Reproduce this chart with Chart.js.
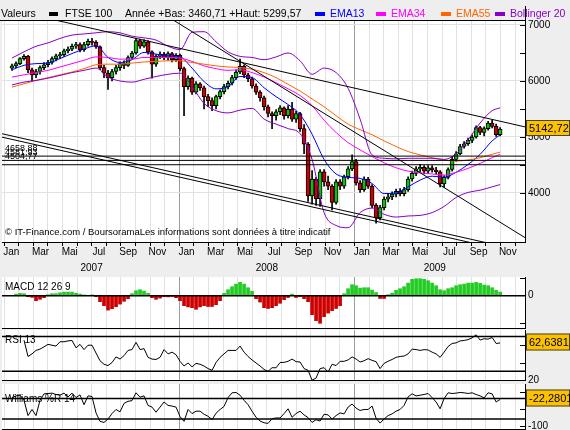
<!DOCTYPE html>
<html>
<head>
<meta charset="utf-8">
<script src="https://cdn.jsdelivr.net/npm/chart.js@4.4.1/dist/chart.umd.min.js"></script>
<style>
  html, body { margin: 0; padding: 0; background: #eeeeee; }
  #wrap { position: relative; width: 570px; height: 430px; overflow: hidden; background: #eeeeee; }
  #wrap canvas { position: absolute; left: 0; top: 0; }
</style>
</head>
<body>
<div id="wrap">
  <canvas id="main" width="570" height="430"></canvas>
  <canvas id="macd" width="570" height="430"></canvas>
  <canvas id="rsi" width="570" height="430"></canvas>
  <canvas id="will" width="570" height="430"></canvas>
</div>
<script>
// ---- données ----
const monthLabels = ['Jan', 'Mar', 'Mai', 'Jul', 'Sep', 'Nov'];
const yearLabels = ['2007', '2008', '2009'];
const priceTicks = [4000, 5000, 6000, 7000];
const yearLow = 3460.71, yearHigh = 5299.57;

// bougies (une barre tous les ~8 jours, janv. 2007 -> nov. 2009)
const opens = [
  6230, 6270, 6310, 6400, 6440, 6200, 6110, 6170, 6240, 6290,
  6330, 6400, 6450, 6470, 6540, 6570, 6620, 6650, 6560, 6650,
  6710, 6690, 6610, 6240, 6140, 6060, 6170, 6240, 6310, 6280,
  6420, 6500, 6720, 6620, 6700, 6520, 6300, 6440, 6480, 6420,
  6490, 6380, 6460, 6220, 5900, 6050, 5800, 5950, 5880, 5720,
  5650, 5560, 5720, 5810, 5900, 5960, 6060, 6160, 6260, 6110,
  6040, 5910, 5800, 5700, 5540, 5420, 5380, 5450, 5520, 5380,
  5500, 5320, 5420, 5150, 4870, 3950, 4250, 3900, 4380, 4200,
  4120, 3830, 4200, 4120, 4290, 4430, 4560, 4180, 4060, 4250,
  4120, 3780, 3560, 3740, 3890, 3930, 3980, 4030, 3990, 4060,
  4250, 4350, 4430, 4460, 4390, 4450, 4410, 4380, 4160, 4280,
  4420, 4600, 4700, 4830, 4880, 4940, 5000, 5170, 5080, 5150,
  5250, 5190, 5040
];
const highs = [
  6300, 6340, 6420, 6470, 6460, 6230, 6210, 6270, 6330, 6370,
  6430, 6480, 6510, 6570, 6610, 6660, 6690, 6680, 6690, 6750,
  6760, 6720, 6630, 6280, 6190, 6210, 6280, 6340, 6360, 6450,
  6530, 6760, 6750, 6740, 6720, 6540, 6470, 6520, 6510, 6520,
  6510, 6490, 6480, 6250, 6090, 6070, 5990, 5970, 5910, 5760,
  5700, 5750, 5840, 5940, 6000, 6100, 6200, 6390, 6290, 6140,
  6070, 5950, 5830, 5730, 5570, 5450, 5490, 5560, 5540, 5560,
  5620, 5460, 5440, 5220, 4900, 4400, 4280, 4420, 4420, 4300,
  4150, 4240, 4240, 4320, 4470, 4680, 4600, 4220, 4290, 4280,
  4150, 3810, 3780, 3930, 3980, 4020, 4070, 4080, 4100, 4290,
  4390, 4470, 4510, 4490, 4490, 4490, 4460, 4400, 4310, 4450,
  4640, 4740, 4870, 4920, 4980, 5040, 5200, 5190, 5180, 5280,
  5299.57, 5230, 5170
];
const lows = [
  6190, 6240, 6290, 6370, 6150, 5990, 6060, 6120, 6200, 6250,
  6300, 6360, 6400, 6440, 6500, 6540, 6580, 6520, 6530, 6620,
  6640, 6580, 6200, 6060, 5850, 6000, 6120, 6190, 6220, 6260,
  6390, 6480, 6580, 6600, 6480, 6050, 6260, 6400, 6380, 6370,
  6340, 6350, 6180, 5380, 5850, 5760, 5770, 5830, 5500, 5540,
  5470, 5500, 5680, 5770, 5860, 5930, 6030, 6130, 6060, 5990,
  5870, 5760, 5640, 5480, 5360, 5150, 5300, 5400, 5320, 5340,
  5280, 5260, 5100, 4700, 3850, 3800, 3780, 3760, 4120, 4060,
  3700, 3800, 4060, 4080, 4250, 4400, 4140, 4010, 4030, 4080,
  3740, 3460.71, 3520, 3700, 3840, 3880, 3930, 3950, 3950, 4030,
  4210, 4310, 4380, 4340, 4350, 4370, 4340, 4110, 4100, 4250,
  4390, 4570, 4680, 4800, 4850, 4900, 4980, 5040, 5020, 5120,
  5160, 5010, 5020
];
const closes = [
  6270, 6310, 6400, 6440, 6200, 6110, 6170, 6240, 6290, 6330,
  6400, 6450, 6470, 6540, 6570, 6620, 6650, 6560, 6650, 6710,
  6690, 6610, 6240, 6140, 6060, 6170, 6240, 6310, 6280, 6420,
  6500, 6720, 6620, 6700, 6520, 6300, 6440, 6480, 6420, 6490,
  6380, 6460, 6220, 5900, 6050, 5800, 5950, 5880, 5720, 5650,
  5560, 5720, 5810, 5900, 5960, 6060, 6160, 6260, 6110, 6040,
  5910, 5800, 5700, 5540, 5420, 5380, 5450, 5520, 5380, 5500,
  5320, 5420, 5150, 4870, 3950, 4250, 3900, 4380, 4200, 4120,
  3830, 4200, 4120, 4290, 4430, 4560, 4180, 4060, 4250, 4120,
  3780, 3560, 3740, 3890, 3930, 3980, 4030, 3990, 4060, 4250,
  4350, 4430, 4460, 4390, 4450, 4410, 4380, 4160, 4280, 4420,
  4600, 4700, 4830, 4880, 4940, 5000, 5170, 5080, 5150, 5250,
  5190, 5040, 5142.72
];

// moyennes et bandes, relevées toutes les 3 barres
const lineBars = [0, 3, 6, 9, 12, 15, 18, 21, 24, 27, 30, 33, 36, 39, 42, 45, 48, 51, 54, 57, 60,
  63, 66, 69, 72, 75, 78, 81, 84, 87, 90, 93, 96, 99, 102, 105, 108, 111, 114, 117, 120, 122];
const ema13 = [6200, 6280, 6310, 6320, 6400, 6490, 6570, 6630, 6420, 6330, 6380, 6510, 6480, 6450,
  6430, 6230, 5990, 5860, 5900, 6080, 6060, 5880, 5720, 5580, 5400, 5050, 4600, 4340, 4280, 4260,
  4170, 3990, 4000, 4110, 4230, 4300, 4280, 4370, 4510, 4690, 4930, 5040];
const ema34 = [6070, 6110, 6150, 6190, 6250, 6310, 6370, 6430, 6420, 6390, 6390, 6420, 6420, 6420,
  6410, 6350, 6270, 6220, 6190, 6200, 6150, 6070, 5970, 5860, 5740, 5560, 5300, 5080, 4900, 4770,
  4650, 4540, 4450, 4390, 4360, 4340, 4320, 4370, 4440, 4530, 4630, 4690];
const ema55 = [5890, 5950, 6010, 6060, 6110, 6160, 6220, 6290, 6300, 6300, 6320, 6340, 6350, 6360,
  6360, 6330, 6300, 6270, 6250, 6240, 6210, 6150, 6060, 5940, 5820, 5680, 5540, 5380, 5230, 5130,
  5040, 4930, 4830, 4740, 4680, 4630, 4590, 4570, 4590, 4630, 4690, 4730];
const bollUp = [6410, 6520, 6620, 6680, 6760, 6820, 6840, 6860, 6880, 6860, 6800, 6770, 6730, 6620,
  6560, 6870, 6880, 6700, 6520, 6440, 6420, 6380, 6430, 6500, 6360, 6120, 6230, 6150, 5870, 5320,
  4680, 4620, 4610, 4620, 4620, 4620, 4600, 4700, 4950, 5250, 5470, 5520];
const bollLow = [5930, 5980, 6010, 6050, 6100, 6150, 6190, 6230, 6070, 6000, 5980, 6030, 6080, 6120,
  6140, 5900, 5600, 5470, 5430, 5480, 5510, 5320, 5230, 5150, 5060, 4600, 3650, 3420, 3380, 3650,
  3730, 3620, 3570, 3590, 3600, 3650, 3760, 3920, 4010, 4050, 4110, 4150];

// droites tracées (mois depuis janv. 2007, cours)
const resistLine = [[2.47, 7150], [35.7, 5179]];
const fallLine = [[11.03, 7179], [35.7, 3200]];
const channelTop = [[-0.27, 5066], [35.68, 2957]];
const channelBottom = [[-0.27, 5005], [35.68, 2896]];
const levels = [4658.88, 4581.93, 4504.77];

// indicateurs
const macdHist = [
  0, 8, 12, 10, -5, -8, -25, -18, -10, 5,
  10, 10, 15, 18, 18, 18, 12, 8, 4, 2,
  4, -5, -30, -50, -72, -65, -55, -42, -28, -15,
  10, 25, 30, 23, 12, -10, -18, -12, -5, -6,
  -4, -10, -25, -50, -56, -60, -68, -56, -50, -54,
  -54, -45, -25, 12, 30, 45, 58, 67, 58, 40,
  22, -15, -32, -60, -64, -60, -50, -38, -20, -9,
  8, -9, -5, -15, -30, -95, -125, -138, -105, -87,
  -75, -64, -50, 10, 35, 55, 50, 38, 40, 40,
  28, 16, -14, -14, 5, 13, 27, 35, 45, 63,
  82, 85, 85, 82, 75, 63, 50, 30, 25, 35,
  40, 50, 55, 58, 63, 63, 67, 62, 53, 50,
  40, 27, 18
];
const rsi13 = [
  null, null, null, 65.8, 47, 50, 54, 55.5, 58.2, 61,
  60, 59, 64, 64, 65, 65.5, 57, 61, 55, 60,
  60, 51, 42, 38, 36.5, 40, 46.5, 44, 48, 54,
  55, 63.3, 55, 56, 46, 44, 43.5, 46, 55, 50,
  52, 49, 41.4, 36, 39.5, 35, 39, 38, 36, 33,
  31, 40, 46, 50, 54, 54, 54, 59, 52, 47,
  43, 39.5, 36, 32, 29.7, 34, 33.9, 40, 40.2, 41.4,
  44, 41, 40.6, 33, 31, 19.6, 22, 33, 34, 29,
  38, 36.5, 41.4, 41.4, 43, 46.5, 44, 40.6, 42, 44.5,
  42.5, 41, 33, 39, 41.5, 43.5, 46, 47, 47.5, 50,
  55.5, 55, 54, 54.9, 54.5, 52, 50, 46, 52, 58.5,
  62, 62.7, 65, 65.5, 66.5, 68.5, 72, 66, 67.5, 67,
  69, 62, 62.6381
];
const williams14 = [
  -17, -12, -10, -25, -70, -52, -70, -25, -6, -5,
  -4, -8, -10, -4, -15, -4, -17, -9, -38, -12,
  -14, -62, -87, -90, -80, -64, -52, -59, -34, -28,
  -26, -3, -16, -12, -40, -45, -60, -45, -30, -40,
  -42, -45, -73, -87, -52, -64, -57, -57, -66, -72,
  -82, -63, -52, -43, -17, -3, -2, -10, -25, -38,
  -57, -75, -86, -91, -93, -79, -77, -77, -64, -50,
  -75, -64, -57, -68, -76, -90, -82, -86, -66, -68,
  -80, -70, -62, -65, -45, -36, -48, -55, -52, -52,
  -42, -78, -92, -80, -70, -65, -57, -52, -40, -15,
  -6, -12, -10, -8, -5, -17, -30, -50, -20, -3,
  -5, -4, -2, -3, -5, -3, -8, -12, -18, -3,
  -6, -30, -22.2801
];

// ---- mise en page ----
Chart.defaults.font.family = '"Liberation Sans", Arial, Helvetica, sans-serif';
Chart.defaults.font.size = 10;
Chart.defaults.color = '#000';

const X_MIN = -0.137, X_MAX = 35.68;   // en mois depuis janvier 2007
const BAR0 = 0.548, BAR_STEP = 0.274;
const barPos = i => BAR0 + i * BAR_STEP;
const monthTicks = [...Array(36).keys()];
const fmt = v => String(v).replace('.', ',');

const gridColor = c => (c.tick && c.tick.value > 0 && c.tick.value % 12 === 0) ? '#9c9c9c' : '#e2e2e2';

function monthAxis(showLabels, height) {
  return {
    type: 'linear', min: X_MIN, max: X_MAX, offset: false,
    afterBuildTicks: ax => { ax.ticks = monthTicks.map(v => ({ value: v })); },
    afterFit: ax => { ax.height = height; ax.paddingLeft = 0; ax.paddingRight = 0; },
    grid: { color: gridColor, offset: false, drawTicks: showLabels, tickLength: 4, tickColor: '#000' },
    border: { display: true, color: '#000', width: 1 },
    ticks: {
      display: showLabels, autoSkip: false, maxRotation: 0, padding: 0, labelOffset: 7.3,
      callback: v => (v % 2 === 0 ? monthLabels[(v % 12) / 2] : '')
    }
  };
}

const plotBg = {
  id: 'plotBg',
  beforeDraw(chart) {
    const { ctx, chartArea: a } = chart;
    ctx.save();
    ctx.fillStyle = '#ffffff';
    ctx.fillRect(a.left, a.top, a.right - a.left, a.bottom - a.top);
    ctx.restore();
  }
};

function drawDashes(chart, values) {
  const { ctx, chartArea: a, scales: { y } } = chart;
  ctx.save();
  ctx.strokeStyle = '#000';
  ctx.lineWidth = 1;
  ctx.beginPath();
  values.forEach(v => {
    const py = Math.round(y.getPixelForValue(v)) + 0.5;
    ctx.moveTo(a.right - 5, py);
    ctx.lineTo(a.right, py);
  });
  ctx.stroke();
  ctx.restore();
}

function valueBox(chart, v, h) {
  const { ctx, chartArea: a, scales: { y } } = chart;
  const cy = Math.round(y.getPixelForValue(v)) - 1;
  ctx.save();
  ctx.fillStyle = '#fcc200';
  ctx.strokeStyle = '#444';
  ctx.lineWidth = 1;
  ctx.fillRect(a.right + 1, cy - h / 2, 44, h);
  ctx.strokeRect(a.right + 1.5, cy - h / 2 + 0.5, 43, h - 1);
  ctx.fillStyle = '#000';
  ctx.font = '11px "Liberation Sans", Arial, sans-serif';
  ctx.textBaseline = 'middle';
  ctx.fillText(fmt(v), a.right + 4, cy + 1);
  ctx.restore();
}

const common = {
  responsive: false, animation: false, devicePixelRatio: 1, events: [],
  plugins: { legend: { display: false }, tooltip: { enabled: false } }
};

// ---- graphique principal ----
const idx = closes.map((_, i) => i);
const linePts = arr => arr.map((v, k) => ({ x: barPos(lineBars[k]), y: v }));
const segPts = seg => seg.map(p => ({ x: p[0], y: p[1] }));
const thin = (data, color, extra) => Object.assign({
  type: 'line', data, borderColor: color, borderWidth: 1, pointRadius: 0, order: 0
}, extra || {});
const smooth = { cubicInterpolationMode: 'monotone', order: 1 };
const legendOrder = ['EMA13', 'EMA34', 'EMA55', 'Bollinger 20'];

const mainDecor = {
  id: 'mainDecor',
  afterDatasetsDraw(chart) {
    const { ctx, scales: { y } } = chart;
    ctx.save();
    ctx.fillStyle = '#000';
    ctx.textBaseline = 'middle';
    ctx.font = '9px "Liberation Sans", Arial, sans-serif';
    levels.forEach(lv => ctx.fillText(fmt(lv), 5, y.getPixelForValue(lv) - 8));
    ctx.font = '9.5px "Liberation Sans", Arial, sans-serif';
    ctx.fillText('\u00A9 IT-Finance.com / BoursoramaLes informations sont données à titre indicatif', 5, 232);
    ctx.restore();
  },
  afterDraw(chart) {
    const { ctx, chartArea: a } = chart;
    ctx.save();
    ctx.strokeStyle = '#000';
    ctx.lineWidth = 1;
    ctx.beginPath();
    ctx.moveTo(0, a.top + 0.5); ctx.lineTo(a.right, a.top + 0.5);
    ctx.moveTo(a.right + 0.5, 6); ctx.lineTo(a.right + 0.5, a.top);
    ctx.stroke();

    ctx.font = '10.5px "Liberation Sans", Arial, sans-serif';
    ctx.textBaseline = 'middle';
    ctx.fillStyle = '#000';
    ctx.fillText('Valeurs', 1, 14);
    ctx.fillRect(49, 12, 9, 4);
    ctx.fillText('FTSE 100', 65, 14);
    ctx.fillText('Année +Bas: ' + fmt(yearLow) + ' +Haut: ' + fmt(yearHigh), 125, 14);
    const legendX = [315, 376, 441, 495];
    legendOrder.forEach((name, k) => {
      const d = chart.data.datasets.find(s => s.label === name);
      ctx.fillStyle = d.borderColor;
      ctx.fillRect(legendX[k], 12, 10, 4);
      ctx.fillText(name, legendX[k] + 15, 14);
    });
    ctx.restore();

    drawDashes(chart, [4000, 4500, 5000, 5500, 6000, 6500, 7000]);
    valueBox(chart, closes[closes.length - 1], 16);
  }
};

new Chart(document.getElementById('main'), {
  type: 'bar',
  data: {
    datasets: [
      { type: 'bar', label: 'mèches', data: idx.map(i => ({ x: barPos(i), y: [lows[i], highs[i]] })),
        backgroundColor: '#000', barThickness: 1, grouped: false, order: 5 },
      { type: 'bar', label: 'FTSE 100', data: idx.map(i => ({ x: barPos(i), y: [opens[i], closes[i]] })),
        backgroundColor: idx.map(i => closes[i] >= opens[i] ? '#10c010' : '#cc0000'),
        borderColor: '#000', borderWidth: 1, borderSkipped: false, barThickness: 4, grouped: false, order: 4 },
      thin(linePts(bollLow), '#8a00c8', smooth),
      thin(linePts(bollUp), '#8a00c8', Object.assign({ label: 'Bollinger 20' }, smooth)),
      thin(linePts(ema55), '#ff6600', Object.assign({ label: 'EMA55' }, smooth)),
      thin(linePts(ema34), '#ff00ff', Object.assign({ label: 'EMA34' }, smooth)),
      thin(linePts(ema13), '#0000ff', Object.assign({ label: 'EMA13' }, smooth)),
      thin(segPts(resistLine), '#000'),
      thin(segPts(fallLine), '#000'),
      thin(segPts(channelTop), '#000'),
      thin(segPts(channelBottom), '#000'),
      ...levels.map(lv => thin([{ x: X_MIN, y: lv }, { x: X_MAX, y: lv }], '#000'))
    ]
  },
  options: Object.assign({}, common, {
    layout: { padding: { left: 2, right: 0, top: 20, bottom: 155 } },
    scales: {
      x: monthAxis(true, 18),
      x2: {
        type: 'linear', position: 'bottom', weight: 1, min: X_MIN, max: X_MAX, offset: false,
        afterBuildTicks: ax => { ax.ticks = [6, 18, 29.5].map(v => ({ value: v })); },
        afterFit: ax => { ax.height = 15; ax.paddingLeft = 0; ax.paddingRight = 0; },
        grid: { display: false, drawTicks: false, offset: false },
        border: { display: false },
        ticks: { autoSkip: false, maxRotation: 0, padding: 2, callback: (v, i) => yearLabels[i] }
      },
      y: {
        position: 'right', min: 3125, max: 7089,
        afterBuildTicks: ax => { ax.ticks = priceTicks.map(v => ({ value: v })); },
        afterFit: ax => { ax.width = 45; ax.paddingTop = 0; ax.paddingBottom = 0; },
        grid: { color: '#e2e2e2', drawTicks: false },
        border: { display: true, color: '#000' },
        ticks: { padding: 3, callback: v => String(v) }
      }
    }
  }),
  plugins: [plotBg, mainDecor]
});

// ---- panneaux indicateurs ----
function panel(id, top, bottom, type, datasets, range, labelTicks, dashes, title, titleY, boxValue) {
  const decor = {
    id: 'decor' + id,
    beforeDatasetsDraw(chart) {
      const { ctx } = chart;
      ctx.save();
      ctx.fillStyle = '#000';
      ctx.font = '10px "Liberation Sans", Arial, sans-serif';
      ctx.textBaseline = 'middle';
      ctx.fillText(title, 5, titleY);
      ctx.restore();
    },
    afterDraw(chart) {
      drawDashes(chart, dashes);
      if (boxValue !== null) valueBox(chart, boxValue, 17);
    }
  };
  new Chart(document.getElementById(id), {
    type,
    data: { datasets },
    options: Object.assign({}, common, {
      layout: { padding: { left: 2, right: 0, top, bottom: 430 - bottom - 1 } },
      scales: {
        x: monthAxis(false, 1),
        y: {
          position: 'right', min: range[0], max: range[1],
          afterBuildTicks: ax => { ax.ticks = labelTicks.map(v => ({ value: v })); },
          afterFit: ax => { ax.width = 45; ax.paddingTop = 0; ax.paddingBottom = 0; },
          grid: { display: false, drawTicks: false },
          border: { display: true, color: '#000' },
          ticks: { padding: 3, callback: v => String(v) }
        }
      }
    }),
    plugins: [plotBg, decor]
  });
}

const hline = v => thin([{ x: X_MIN, y: v }, { x: X_MAX, y: v }], '#000', { borderWidth: 1.5 });

panel('macd', 277, 328, 'bar', [
  { type: 'bar', data: idx.map(i => ({ x: barPos(i), y: macdHist[i] })),
    backgroundColor: macdHist.map(v => v >= 0 ? '#22cc22' : '#cc0000'),
    barThickness: 3, grouped: false, order: 2 },
  hline(0)
], [-161.5, 93.5], [0], [88, -137], 'MACD 12 26 9', 287, null);

panel('rsi', 330, 380, 'line', [
  thin(idx.map(i => ({ x: barPos(i), y: rsi13[i] })), '#000', { order: 1 }),
  hline(70), hline(30)
], [19.8, 77.6], [20], [20, 40, 60], 'RSI 13', 340, rsi13[rsi13.length - 1]);

panel('will', 384, 429, 'line', [
  thin(idx.map(i => ({ x: barPos(i), y: williams14[i] })), '#000', { order: 1 }),
  hline(-20), hline(-80)
], [-109.4, 22.9], [-100], [0, -50, -100], 'Williams %R 14', 399, williams14[williams14.length - 1]);
</script>
</body>
</html>
